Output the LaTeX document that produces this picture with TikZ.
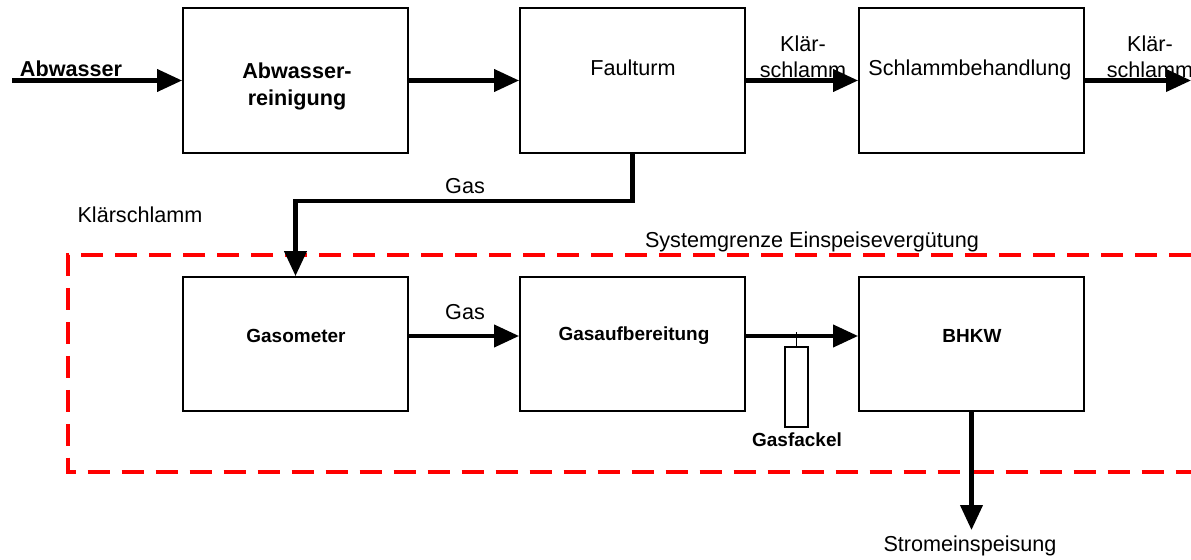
\documentclass[tikz,border=0pt]{standalone}
\usepackage{fontspec}
\setmainfont{Liberation Sans}
\usepackage{xcolor}
\usetikzlibrary{arrows.meta}
\definecolor{grenzrot}{RGB}{255, 0, 0}

\begin{document}
\begin{tikzpicture}[x=0.02cm,y=-0.02cm,
    box/.style={draw,line width=1.1pt,minimum width=4.5cm,minimum height=2.9cm,inner sep=0pt},
    lowbox/.style={box,minimum height=2.68cm},
    flow/.style={line width=2.3pt,-{Triangle[length=0.5cm,width=0.44cm]}},
    lab/.style={font=\fontsize{12.3}{14.8}\selectfont,align=center,inner sep=1pt},
    boldlab/.style={font=\fontsize{12.3}{15.4}\selectfont\bfseries,align=center,inner sep=1pt},
    smalllab/.style={font=\fontsize{10.8}{13}\selectfont\bfseries,inner sep=1pt}]
        \useasboundingbox (0,0) rectangle (1191,560);
        % boxes
        \node[box] (abw) at (295.5,80.5) {};
        \node[box] (fault) at (632.5,80.5) {};
        \node[box] (schlamm) at (971.5,80.5) {};
        \node[lowbox] (gaso) at (295.5,344) {};
        \node[lowbox] (aufb) at (632.5,344) {};
        \node[lowbox] (bhkw) at (971.5,344) {};
        % box texts
        \node[boldlab] (abwlbl) at (297,86) {Abwasser-\\reinigung};
        \node[lab] (faultlbl) at (633,68) {Faulturm};
        \node[lab] (schlammlbl) at (970,70) {Schlammbehandlung};
        \node[smalllab] (gasolbl) at (296,336) {Gasometer};
        \node[smalllab] (aufblbl) at (634,336) {Gasaufbereitung};
        \node[smalllab] (bhkwlbl) at (972,336) {BHKW};
        % system boundary
        \draw[grenzrot,line width=2.8pt,dash pattern=on 0.44cm off 0.24cm]
            (1191,255) -- (68,255) -- (68,472) -- (1191,472);
        \node[lab] (grenze) at (812,242) {Systemgrenze Einspeisevergütung};
        % upper row
        \coordinate (zulauf) at (12,82);
        \coordinate (ablauf) at (1191,82);
        \draw[flow] (abw.west -| zulauf) -- (abw.west);
        \node[boldlab] (abwasser) at (71,69) {Abwasser};
        \draw[flow] (abw.east) -- (fault.west);
        \draw[flow] (fault.east) -- (schlamm.west);
        \node[lab] (klaer1) at (803,57) {Klär-\\schlamm};
        \draw[flow] (schlamm.east) -- (schlamm.east -| ablauf);
        \node[lab] (klaer2) at (1150,57) {Klär-\\schlamm};
        % gas pipe
        \draw[flow,line join=miter] (fault.south) -- ++(0,47) -| (gaso.north);
        \node[lab] (gas1) at (465,186) {Gas};
        \node[lab] (klaer3) at (140,215) {Klärschlamm};
        % lower row
        \draw[flow] ([yshift=0.16cm]gaso.east) -- ([yshift=0.16cm]aufb.west);
        \node[lab] (gas2) at (465,312) {Gas};
        \draw[flow] ([yshift=0.16cm]aufb.east) -- ([yshift=0.16cm]bhkw.west);
        % flare
        \node[draw,line width=0.6pt,minimum width=0.46cm,minimum height=1.6cm,inner sep=0pt] (fackel) at (796.5,387) {};
        \draw[line width=0.6pt] (fackel.north) -- ++(0,-14);
        \node[smalllab] (fackellbl) at (797,440) {Gasfackel};
        % power output
        \node[lab,anchor=north,inner sep=3pt] (strom) at (970,530) {Stromeinspeisung};
        \draw[flow] (bhkw.south) -- (bhkw.south |- strom.north);
    \end{tikzpicture}
\end{document}
